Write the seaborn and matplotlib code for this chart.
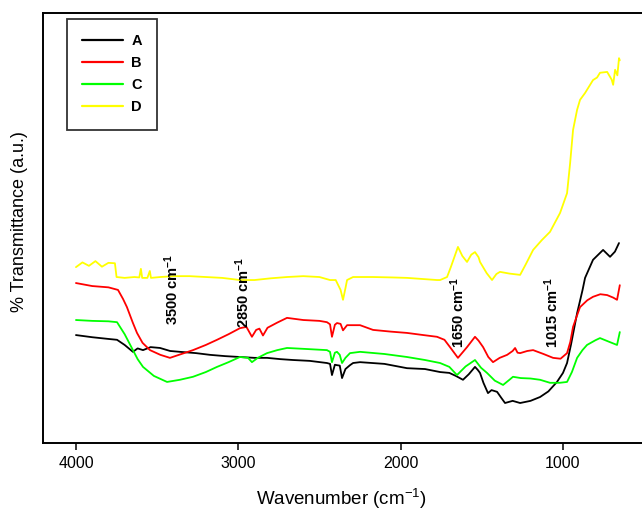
import matplotlib
matplotlib.use("Agg")
import matplotlib.pyplot as plt
import seaborn as sns
import pandas as pd

# FTIR spectra: wavenumber (cm^-1) and transmittance (a.u.) per sample
wn_A = [4000, 3900, 3800, 3747, 3700, 3649, 3620, 3587, 3540, 3482, 3420, 3359, 3260,
        3174, 3080, 2990, 2900, 2823, 2740, 2663, 2560, 2454, 2435, 2423, 2405, 2392,
        2375, 2361, 2340, 2312, 2293, 2250, 2100, 1961, 1850, 1757, 1700, 1660, 1616,
        1580, 1542, 1525, 1511, 1490, 1462, 1440, 1406, 1380, 1357, 1310, 1264, 1200,
        1141, 1090, 1037, 1000, 975, 950, 913, 880, 864, 815, 753, 710, 680, 655]
t_A = [25.1, 24.6, 24.2, 24.0, 22.8, 21.2, 22.0, 21.6, 22.3, 22.1, 21.4, 21.2, 20.9,
       20.5, 20.2, 20.0, 19.8, 19.8, 19.5, 19.3, 19.1, 18.6, 18.4, 15.8, 18.2, 18.1,
       18.0, 15.1, 17.2, 18.1, 18.6, 18.8, 18.4, 17.4, 17.2, 16.5, 16.3, 15.6, 14.7,
       16.0, 17.7, 17.0, 16.3, 14.0, 11.6, 12.3, 11.9, 10.5, 9.3, 9.8, 9.3, 9.8,
       10.7, 12.0, 14.2, 16.3, 18.6, 23.0, 30.2, 35.5, 38.4, 42.6, 44.9, 43.3, 44.5, 46.5]

wn_B = [4000, 3900, 3800, 3741, 3710, 3686, 3650, 3624, 3590, 3544, 3480, 3421, 3350,
        3279, 3200, 3131, 3060, 2990, 2950, 2916, 2890, 2870, 2848, 2820, 2760, 2700,
        2600, 2500, 2454, 2435, 2423, 2405, 2392, 2370, 2355, 2330, 2293, 2250, 2170,
        2060, 1961, 1860, 1776, 1730, 1696, 1647, 1620, 1591, 1542, 1520, 1492, 1460,
        1431, 1390, 1344, 1310, 1295, 1280, 1264, 1220, 1184, 1120, 1061, 1015, 975,
        955, 938, 915, 895, 850, 815, 770, 728, 690, 667, 650]
t_B = [37.2, 36.5, 36.2, 35.6, 33.5, 31.6, 28.0, 25.6, 23.3, 21.6, 20.5, 19.8, 20.7,
       21.6, 22.8, 24.0, 25.3, 26.7, 27.0, 24.7, 26.3, 26.6, 25.0, 26.8, 28.0, 29.1,
       28.6, 28.4, 28.1, 27.6, 24.7, 27.5, 27.9, 27.7, 26.2, 27.4, 27.4, 27.4, 26.3,
       25.9, 25.6, 25.1, 24.7, 24.0, 22.3, 19.8, 21.0, 22.3, 24.7, 23.8, 22.3, 20.0,
       18.8, 19.8, 20.5, 21.4, 22.1, 21.0, 20.9, 21.4, 21.6, 20.7, 19.8, 19.6, 20.9,
       23.5, 27.0, 29.5, 31.6, 33.2, 34.0, 34.6, 34.4, 33.8, 33.3, 36.7]

wn_C = [4000, 3900, 3800, 3747, 3700, 3649, 3620, 3587, 3520, 3439, 3360, 3279, 3200,
        3131, 3060, 2990, 2940, 2916, 2880, 2823, 2760, 2700, 2600, 2454, 2435, 2423,
        2405, 2392, 2375, 2361, 2340, 2312, 2250, 2100, 1961, 1850, 1757, 1700, 1653,
        1600, 1542, 1505, 1468, 1420, 1369, 1330, 1308, 1260, 1200, 1141, 1080, 1020,
        975, 945, 913, 880, 852, 800, 772, 720, 667, 650]
t_C = [28.6, 28.4, 28.3, 28.1, 25.3, 21.6, 19.5, 17.7, 15.6, 14.2, 14.7, 15.4, 16.5,
       17.7, 18.8, 20.0, 19.8, 18.8, 19.8, 20.9, 21.6, 22.1, 21.9, 21.6, 21.2, 18.8,
       21.0, 21.2, 20.5, 18.6, 19.8, 20.9, 21.2, 20.7, 20.0, 19.3, 18.6, 17.7, 15.8,
       17.8, 19.3, 17.5, 16.3, 14.5, 13.5, 14.7, 15.4, 15.1, 15.0, 14.7, 14.0, 14.0,
       14.2, 16.5, 19.8, 21.6, 22.8, 23.9, 24.4, 23.6, 22.8, 25.8]

wn_D = [4000, 3960, 3920, 3880, 3840, 3800, 3760, 3750, 3700, 3640, 3610, 3600, 3592,
        3560, 3545, 3538, 3480, 3400, 3300, 3200, 3100, 2990, 2900, 2800, 2700, 2600,
        2500, 2435, 2400, 2370, 2355, 2340, 2330, 2293, 2170, 2050, 1961, 1850, 1776,
        1757, 1714, 1690, 1647, 1620, 1591, 1565, 1542, 1520, 1511, 1470, 1437, 1410,
        1388, 1330, 1264, 1230, 1184, 1130, 1080, 1018, 975, 956, 938, 913, 895, 864,
        815, 790, 772, 728, 700, 691, 679, 665, 655, 650]
t_D = [40.9, 42.0, 41.2, 42.3, 41.0, 41.9, 41.8, 38.6, 38.4, 38.6, 38.5, 40.5, 38.4,
       38.4, 40.0, 38.4, 38.6, 38.8, 38.8, 38.6, 38.4, 37.9, 37.9, 38.3, 38.6, 38.8,
       38.6, 37.9, 37.9, 35.6, 33.3, 36.0, 37.9, 38.6, 38.6, 38.5, 38.4, 38.1, 37.9,
       37.9, 38.6, 41.0, 45.6, 43.5, 42.1, 43.8, 44.4, 43.2, 42.1, 39.5, 37.9, 39.3,
       39.8, 39.4, 39.1, 41.5, 44.9, 47.2, 49.1, 53.5, 58.1, 65.1, 72.8, 77.5, 79.8, 81.4,
       84.4, 85.0, 86.1, 86.3, 84.5, 83.3, 86.8, 85.5, 89.5, 89.0]

samples = ["A", "B", "C", "D"]
colors = ["#000000", "#ff0000", "#00ff00", "#ffff00"]

# Peak annotations: label, wavenumber, transmittance of label base
peak_labels = ["3500", "2850", "1650", "1015"]
peak_x = [3409, 2971, 1647, 1067]
peak_y = [27.4, 26.7, 22.1, 22.1]

frames = []
for name, wn, t in zip(samples, [wn_A, wn_B, wn_C, wn_D], [t_A, t_B, t_C, t_D]):
    frames.append(pd.DataFrame({"wavenumber": wn, "transmittance": t, "sample": name}))
df = pd.concat(frames, ignore_index=True)

sns.set_style("white")
plt.rcParams["font.family"] = ["Liberation Sans", "DejaVu Sans"]
plt.rcParams["mathtext.fontset"] = "custom"
plt.rcParams["mathtext.rm"] = "Liberation Sans"
plt.rcParams["mathtext.bf"] = "Liberation Sans:bold"
plt.rcParams["mathtext.default"] = "regular"
plt.rcParams["text.color"] = "black"
plt.rcParams["axes.labelcolor"] = "black"
plt.rcParams["xtick.color"] = "black"

fig = plt.figure(figsize=(6.42, 5.16), dpi=100)
ax = fig.add_axes([43 / 642, 73 / 516, 607 / 642, 430 / 516])

sns.lineplot(data=df, x="wavenumber", y="transmittance", hue="sample",
             hue_order=samples, palette=colors, estimator=None, sort=False,
             linewidth=1.3, ax=ax)

ax.set_xlim(4203, 464)
ax.set_ylim(0, 100)
ax.set_xticks([4000, 3000, 2000, 1000])
ax.set_yticks([])

for side in ["left", "top", "bottom", "right"]:
    ax.spines[side].set_color("black")
    ax.spines[side].set_linewidth(1.4)

ax.tick_params(axis="x", direction="out", length=5, width=1.1, pad=4,
               labelsize=11.5, colors="black", bottom=True)

ax.set_xlabel("Wavenumber (cm$^{-1}$)", fontsize=13.5, color="black")
ax.set_ylabel("% Transmittance (a.u.)", fontsize=13, color="black")
ax.xaxis.set_label_coords(0.491, -0.102)
ax.yaxis.set_label_coords(-0.0245, 0.516)

for lab, x, y in zip(peak_labels, peak_x, peak_y):
    ax.text(x, y, lab + r" cm$^{\mathbf{-1}}$", rotation=90, ha="center",
            va="bottom", fontsize=10.5, fontweight="bold", color="black")

handles, labels = ax.get_legend_handles_labels()
leg = ax.legend(handles, labels, loc="upper left",
                bbox_to_anchor=(67 / 642, 1 - 19 / 516),
                bbox_transform=fig.transFigure, borderaxespad=0,
                frameon=True, fancybox=False, handlelength=2.8,
                handletextpad=0.55, labelspacing=0.55, borderpad=1.05,
                prop={"weight": "bold", "size": 10.5})
leg.get_frame().set_edgecolor("black")
leg.get_frame().set_linewidth(1.3)
for line in leg.get_lines():
    line.set_linewidth(1.6)
for txt in leg.get_texts():
    txt.set_color("black")

fig.savefig("out.png", dpi=100)
